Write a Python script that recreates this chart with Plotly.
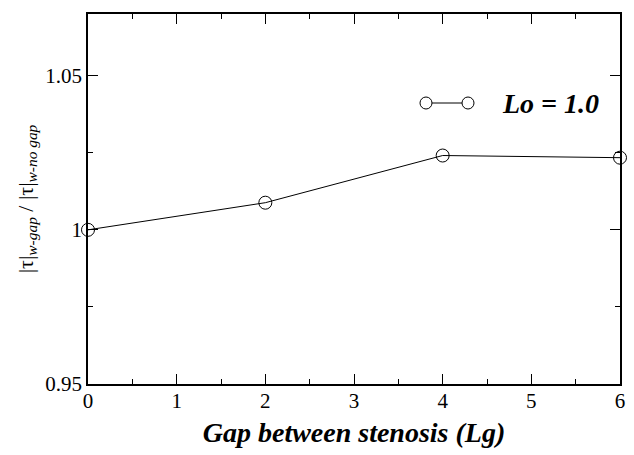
import plotly.graph_objects as go

gap = [0, 2, 4, 6]
ratio = [1.0, 1.0088, 1.0241, 1.0234]
series_name = "Lo = 1.0"
x_ticks = [0, 1, 2, 3, 4, 5, 6]
y_ticks = [0.95, 1.0, 1.05]
y_tick_labels = ["0.95", "1", "1.05"]

font = "Liberation Serif"

fig = go.Figure()
fig.add_trace(go.Scatter(
    x=gap, y=ratio, mode="lines+markers", name=series_name,
    line=dict(color="black", width=1),
    marker=dict(symbol="circle-open", size=13, color="black", line=dict(width=1)),
    showlegend=False, cliponaxis=False,
))

axis_common = dict(
    showgrid=False, zeroline=False, showline=True, linecolor="black", linewidth=1.5,
    mirror="allticks", ticks="inside", ticklen=10, tickwidth=1, tickcolor="black",
    tickfont=dict(family=font, size=21, color="black"),
)

fig.update_xaxes(range=[0, 6], tickvals=x_ticks, ticklabelstandoff=-3,
                 minor=dict(dtick=0.5, ticks="inside", ticklen=5, tickcolor="black", tickwidth=1, showgrid=False),
                 title=dict(text="<b><i>Gap between stenosis (Lg)</i></b>",
                            font=dict(family=font, size=28, color="black"), standoff=10),
                 **axis_common)
fig.update_yaxes(range=[0.95, 1.07], tickvals=y_ticks, ticktext=y_tick_labels,
                 minor=dict(dtick=0.025, ticks="inside", ticklen=5, tickcolor="black", tickwidth=1, showgrid=False),
                 title=dict(text="|τ|<sub><i>w-gap</i></sub> / |τ|<sub><i>w-no gap</i></sub>",
                            font=dict(family=font, size=22, color="black"), standoff=6),
                 **axis_common)

# legend sample drawn in paper coordinates
lx0, lx1, ly = (426 - 88) / 532, (468 - 88) / 532, (384 - 103) / 370
fig.add_shape(type="line", xref="paper", yref="paper", x0=lx0, x1=lx1, y0=ly, y1=ly,
              line=dict(color="black", width=1))
for cx in (lx0, lx1):
    fig.add_shape(type="circle", xref="paper", yref="paper", xsizemode="pixel", ysizemode="pixel",
                  xanchor=cx, yanchor=ly, x0=-6, x1=6, y0=-6, y1=6,
                  line=dict(color="black", width=1), fillcolor="white")
fig.add_annotation(xref="paper", yref="paper", x=(500 - 88) / 532, y=ly, xanchor="left", yanchor="middle",
                   text="<b><i>" + series_name + "</i></b>", showarrow=False,
                   font=dict(family=font, size=28, color="black"))

fig.update_layout(
    template="none",
    font=dict(family=font, color="black"),
    width=634, height=455, margin=dict(l=88, r=14, t=14, b=71),
    plot_bgcolor="white", paper_bgcolor="white",
)
fig.write_html("out.html")
